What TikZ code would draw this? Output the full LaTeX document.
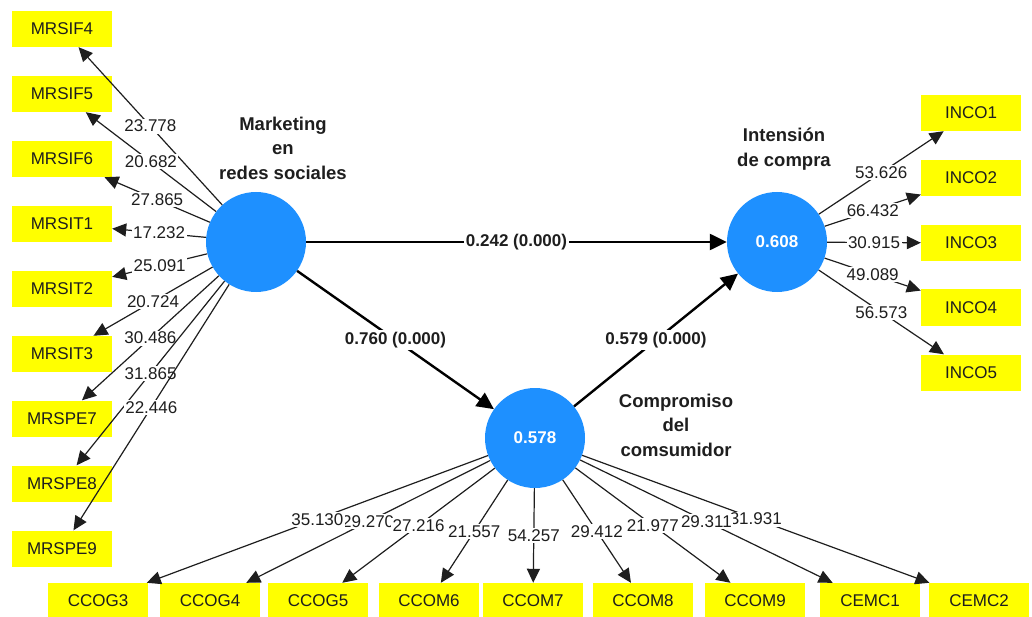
\documentclass[tikz,border=0pt]{standalone}
\usepackage{fontspec}
\setmainfont{Liberation Sans}
\usetikzlibrary{arrows.meta}
\definecolor{lvblue}{RGB}{30,144,255}
\definecolor{indyellow}{RGB}{255,255,0}
\definecolor{txtgray}{RGB}{30,30,30}

\begin{document}
\begin{tikzpicture}[
    x=1pt, y=-1pt,
    ind/.style={
        fill=indyellow,
        minimum width=100pt,
        minimum height=36pt,
        inner sep=0pt,
        text=txtgray,
        font=\fontsize{17}{20}\selectfont
    },
    lv/.style={
        circle,
        fill=lvblue,
        minimum size=100pt,
        inner sep=0pt,
        text=white,
        font=\bfseries\fontsize{17}{20}\selectfont
    },
    lvlbl/.style={
        align=center,
        text=txtgray,
        font=\bfseries\fontsize{18.5}{24.5}\selectfont
    },
    val/.style={
        fill=white,
        inner sep=1.5pt,
        text=txtgray,
        font=\fontsize{17}{20}\selectfont
    },
    pval/.style={
        fill=white,
        inner sep=2pt,
        text=txtgray,
        font=\bfseries\fontsize{17}{20}\selectfont
    },
    arr/.style={
        -{Triangle[length=14pt,width=13pt]},
        line width=1.2pt,
        txtgray
    },
    parr/.style={
        -{Triangle[length=17pt,width=16pt]},
        line width=2.4pt,
        black
    }
]

\useasboundingbox (0,0) rectangle (1032,617);

% ============================================================
% LATENT VARIABLES
% ============================================================

\node[lv] (mrs) at (256,242) {};
\node[lv] (ic) at (777,242) {0.608};
\node[lv] (cc) at (535,438) {0.578};

\node[lvlbl] (mrslbl) at (283,148) {Marketing\\en\\redes sociales};
\node[lvlbl] (iclbl) at (784,149) {Intensión\\de compra};
\node[lvlbl] (cclbl) at (676,425) {Compromiso\\del\\comsumidor};

% Paths
\draw[parr] (mrs) -- node[pval] {0.242 (0.000)} (ic);
\draw[parr] (mrs) -- node[pval] {0.760 (0.000)} (cc);
\draw[parr] (cc) -- node[pval] {0.579 (0.000)} (ic);

% ============================================================
% INDICATORS — LEFT
% ============================================================

\node[ind] (mrsif4) at (62,29) {MRSIF4};
\node[ind] (mrsif5) at (62,94) {MRSIF5};
\node[ind] (mrsif6) at (62,159) {MRSIF6};
\node[ind] (mrsit1) at (62,224) {MRSIT1};
\node[ind] (mrsit2) at (62,289) {MRSIT2};
\node[ind] (mrsit3) at (62,354) {MRSIT3};
\node[ind] (mrspe7) at (62,418.5) {MRSPE7};
\node[ind] (mrspe8) at (62,483.5) {MRSPE8};
\node[ind] (mrspe9) at (62,548.5) {MRSPE9};

\draw[arr] (mrs) -- node[val] {23.778} (mrsif4);
\draw[arr] (mrs) -- node[val] {20.682} (mrsif5);
\draw[arr] (mrs) -- node[val] {27.865} (mrsif6);
\draw[arr] (mrs) -- node[val] {17.232} (mrsit1);
\draw[arr] (mrs) -- node[val] {25.091} (mrsit2);
\draw[arr] (mrs) -- node[val] {20.724} (mrsit3);
\draw[arr] (mrs) -- node[val] {30.486} (mrspe7);
\draw[arr] (mrs) -- node[val] {31.865} (mrspe8);
\draw[arr] (mrs) -- node[val] {22.446} (mrspe9);

% ============================================================
% INDICATORS — RIGHT
% ============================================================

\node[ind] (inco1) at (971,113) {INCO1};
\node[ind] (inco2) at (971,178) {INCO2};
\node[ind] (inco3) at (971,243) {INCO3};
\node[ind] (inco4) at (971,307.5) {INCO4};
\node[ind] (inco5) at (971,372.5) {INCO5};

\draw[arr] (ic) -- node[val] {53.626} (inco1);
\draw[arr] (ic) -- node[val] {66.432} (inco2);
\draw[arr] (ic) -- node[val] {30.915} (inco3);
\draw[arr] (ic) -- node[val] {49.089} (inco4);
\draw[arr] (ic) -- node[val] {56.573} (inco5);

% ============================================================
% INDICATORS — BOTTOM
% ============================================================

\node[ind] (ccog3) at (98,601) {CCOG3};
\node[ind] (ccog4) at (210,601) {CCOG4};
\node[ind] (ccog5) at (318,601) {CCOG5};
\node[ind] (ccom6) at (429,601) {CCOM6};
\node[ind] (ccom7) at (533,601) {CCOM7};
\node[ind] (ccom8) at (643,601) {CCOM8};
\node[ind] (ccom9) at (755,601) {CCOM9};
\node[ind] (cemc1) at (870,601) {CEMC1};
\node[ind] (cemc2) at (979,601) {CEMC2};

\draw[arr] (cc) -- node[val] {29.270} (ccog4);
\draw[arr] (cc) -- node[val] {35.130} (ccog3);
\draw[arr] (cc) -- node[val] {27.216} (ccog5);
\draw[arr] (cc) -- node[val] {21.557} (ccom6);
\draw[arr] (cc) -- node[val] {54.257} (ccom7);
\draw[arr] (cc) -- node[val] {29.412} (ccom8);
\draw[arr] (cc) -- node[val] {21.977} (ccom9);
\draw[arr] (cc) -- node[val] {31.931} (cemc2);
\draw[arr] (cc) -- node[val] {29.311} (cemc1);

\end{tikzpicture}
\end{document}
